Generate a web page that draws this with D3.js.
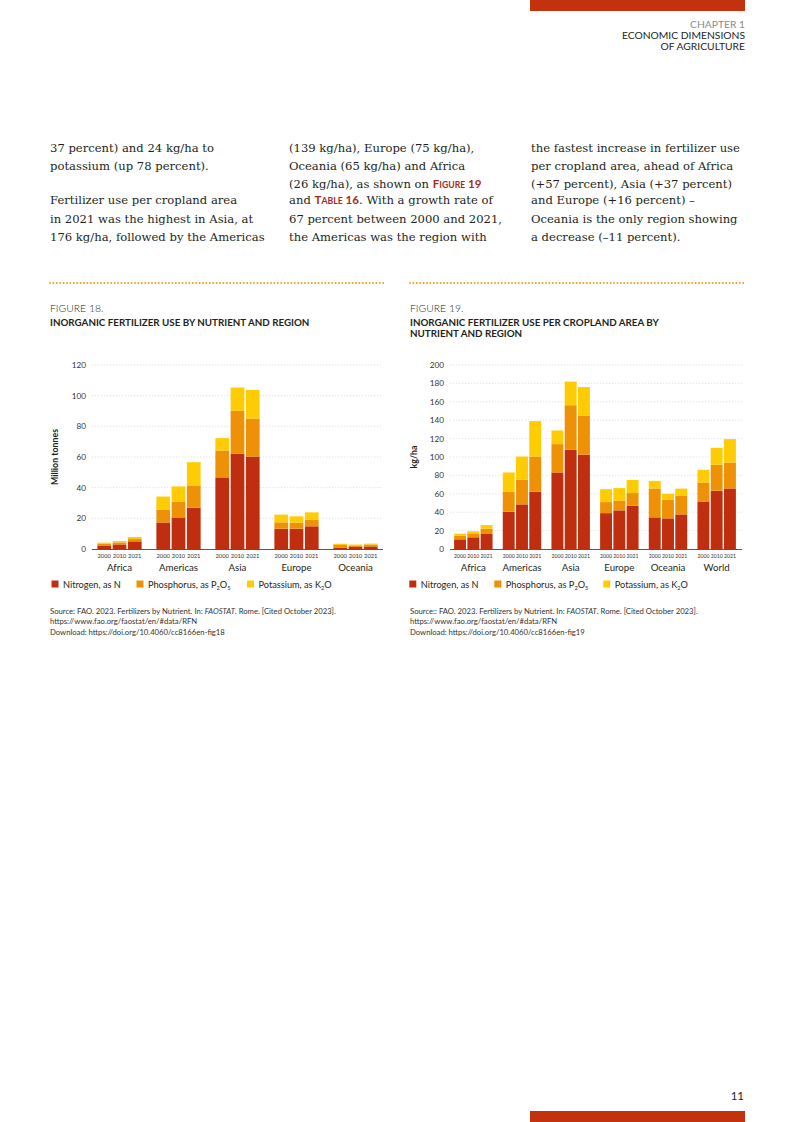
<!DOCTYPE html>
<html>
<head>
<meta charset="utf-8">
<script src="https://cdn.jsdelivr.net/npm/d3@7"></script>
<style>
  body { margin:0; background:#fff; }
  svg { display:block; }
  .body-txt { font-family:"DejaVu Serif", serif; font-size:11.6px; fill:#231f20; }
  .hl { font-family:"Lato", sans-serif; font-weight:bold; fill:#a82a1e; }
  .sans { font-family:"Lato", sans-serif; fill:#231f20; }
  .fig-no { font-family:"Lato", sans-serif; font-size:10.4px; fill:#231f20; font-weight:300; }
  .fig-title { font-family:"Lato", sans-serif; font-size:9.8px; font-weight:bold; fill:#231f20; }
  .tick-lbl { font-family:"Lato", sans-serif; font-size:8.2px; fill:#333; }
  .yr { font-family:"Lato", sans-serif; font-size:5.6px; fill:#333; }
  .reg { font-family:"Lato", sans-serif; font-size:9.7px; fill:#231f20; }
  .leg { font-family:"Lato", sans-serif; font-size:9.2px; fill:#231f20; }
  .src { font-family:"Lato", sans-serif; font-size:7.7px; fill:#333; }
  .grid { stroke:#cdcdcd; stroke-width:0.6; stroke-dasharray:1.2,1.8; }
</style>
</head>
<body>
<svg id="page" width="793" height="1122"></svg>
<script>
// ---- data ----
var years = ['2000', '2010', '2021'];
var nutrientNames = ['Nitrogen', 'Phosphorus', 'Potassium'];
var colors = ['#bf2e0e', '#ee9107', '#ffcb05'];

// figure 18, million tonnes, order: region x year
var regions18 = ['Africa', 'Americas', 'Asia', 'Europe', 'Oceania'];
var nitrogen18   = [2.3, 3.0, 5.0,  17.3, 20.6, 27.0,  46.7, 62.1, 60.3,  13.2, 13.2, 14.8,  1.0, 1.3, 1.7];
var phosphorus18 = [1.2, 1.3, 1.5,   8.3, 10.4, 14.1,  17.5, 28.0, 24.8,   4.2,  4.0,  4.3,  1.6, 1.0, 1.2];
var potassium18  = [0.6, 0.9, 1.3,   8.6,  9.8, 15.5,   8.1, 15.2, 18.6,   5.0,  4.1,  4.8,  0.8, 0.6, 0.6];
var ticks18 = [0, 20, 40, 60, 80, 100, 120];

// figure 19, kg/ha
var regions19 = ['Africa', 'Americas', 'Asia', 'Europe', 'Oceania', 'World'];
var nitrogen19   = [10.5, 12.7, 16.3,  40.5, 48.5, 62.2,  83.2, 107.8, 102.4,  39.0, 42.0, 47.0,  34.4, 33.3, 37.6,  51.7, 63.3, 65.8];
var phosphorus19 = [ 4.0,  4.3,  5.8,  21.7, 26.7, 38.3,  30.8,  48.5,  42.3,  12.0, 10.4, 13.8,  31.4, 20.2, 20.6,  20.6, 28.2, 28.2];
var potassium19  = [ 2.1,  2.2,  3.9,  21.0, 25.3, 38.5,  14.8,  25.7,  31.3,  14.0, 13.8, 14.2,   8.3,  6.5,  7.4,  13.8, 18.5, 25.4];
var ticks19 = [0, 20, 40, 60, 80, 100, 120, 140, 160, 180, 200];

var svg = d3.select('#page');

// ---- page furniture ----
svg.append('rect').attr('x', 530).attr('y', 0).attr('width', 215).attr('height', 11).attr('fill', '#c4310f');
svg.append('rect').attr('x', 530).attr('y', 1111).attr('width', 215).attr('height', 11).attr('fill', '#c4310f');

svg.append('text').attr('class', 'sans').attr('x', 745).attr('y', 28).attr('text-anchor', 'end')
  .style('font-size', '10.3px').style('fill', '#8a8a8a').text('CHAPTER 1');
svg.append('text').attr('class', 'sans').attr('x', 745).attr('y', 39).attr('text-anchor', 'end')
  .style('font-size', '10.3px').text('ECONOMIC DIMENSIONS');
svg.append('text').attr('class', 'sans').attr('x', 745).attr('y', 50).attr('text-anchor', 'end')
  .style('font-size', '10.3px').text('OF AGRICULTURE');

svg.append('text').attr('class', 'sans').attr('x', 744).attr('y', 1100).attr('text-anchor', 'end')
  .style('font-size', '11.5px').text('11');

// body text columns
var lineY = [152, 170.2, 188.3, 204.4, 222.5, 240.6];
function bodyLine(x, i, parts) {
  var t = svg.append('text').attr('class', 'body-txt').attr('x', x).attr('y', lineY[i]);
  parts.forEach(function(p) {
    if (typeof p === 'string') { t.append('tspan').text(p); }
    else {
      // small caps highlight
      t.append('tspan').attr('class', 'hl').style('font-size', '11.6px').text(p.big);
      t.append('tspan').attr('class', 'hl').style('font-size', '8.7px').text(p.small);
      t.append('tspan').attr('class', 'hl').style('font-size', '11.6px').text(p.num);
    }
  });
}
bodyLine(50, 0, ['37 percent) and 24 kg/ha to']);
bodyLine(50, 1, ['potassium (up 78 percent).']);
bodyLine(50, 3, ['Fertilizer use per cropland area']);
bodyLine(50, 4, ['in 2021 was the highest in Asia, at']);
bodyLine(50, 5, ['176 kg/ha, followed by the Americas']);

bodyLine(289, 0, ['(139 kg/ha), Europe (75 kg/ha),']);
bodyLine(289, 1, ['Oceania (65 kg/ha) and Africa']);
bodyLine(289, 2, ['(26 kg/ha), as shown on ', {big: 'F', small: 'IGURE', num: ' 19'}]);
bodyLine(289, 3, ['and ', {big: 'T', small: 'ABLE', num: ' 16'}, '. With a growth rate of']);
bodyLine(289, 4, ['67 percent between 2000 and 2021,']);
bodyLine(289, 5, ['the Americas was the region with']);

bodyLine(531, 0, ['the fastest increase in fertilizer use']);
bodyLine(531, 1, ['per cropland area, ahead of Africa']);
bodyLine(531, 2, ['(+57 percent), Asia (+37 percent)']);
bodyLine(531, 3, ['and Europe (+16 percent) \u2013']);
bodyLine(531, 4, ['Oceania is the only region showing']);
bodyLine(531, 5, ['a decrease (\u201311 percent).']);

// ---- chart drawing ----
function drawChart(cfg) {
  var g = svg.append('g');

  // dotted separator
  g.append('line').attr('x1', cfg.left).attr('x2', cfg.left + 335).attr('y1', 283).attr('y2', 283)
    .attr('stroke', '#eea020').attr('stroke-width', 2).attr('stroke-linecap', 'round')
    .attr('stroke-dasharray', '0,3.4');

  g.append('text').attr('class', 'fig-no').attr('x', cfg.left).attr('y', 312).text(cfg.figNo);
  cfg.title.forEach(function(t, i) {
    g.append('text').attr('class', 'fig-title').attr('x', cfg.left).attr('y', 326 + i * 10.5).text(t);
  });

  var x0 = d3.scaleBand().domain(cfg.regions).range(cfg.xRange)
    .paddingInner(cfg.pad).paddingOuter(cfg.pad / 2);
  var x1 = d3.scaleBand().domain(years).range([0, x0.bandwidth()]).paddingInner(0.1);
  var y = d3.scaleLinear().domain([0, d3.max(cfg.ticks)]).range([549, 365]);

  // grid
  g.selectAll('.grid').data(cfg.ticks.filter(function(d) { return d > 0; })).enter()
    .append('line').attr('class', 'grid')
    .attr('x1', cfg.gridRange[0]).attr('x2', cfg.gridRange[1])
    .attr('y1', function(d) { return y(d); }).attr('y2', function(d) { return y(d); });

  // y tick labels
  g.selectAll('.tick-lbl').data(cfg.ticks).enter()
    .append('text').attr('class', 'tick-lbl')
    .attr('x', cfg.gridRange[0] - 6).attr('y', function(d) { return y(d) + 2.9; })
    .attr('text-anchor', 'end').text(function(d) { return d; });

  g.append('text').attr('class', 'sans')
    .attr('transform', 'translate(' + cfg.yTitleX + ',' + ((365 + 549) / 2) + ') rotate(-90)')
    .attr('text-anchor', 'middle').style('font-size', '8.8px').style('font-weight', 'bold')
    .text(cfg.yTitle);

  // stacked bars
  var rows = [];
  cfg.regions.forEach(function(r, ri) {
    years.forEach(function(yr, yi) {
      var k = ri * 3 + yi;
      rows.push({region: r, year: yr, N: cfg.n[k], P: cfg.p[k], K: cfg.k[k]});
    });
  });
  var series = d3.stack().keys(['N', 'P', 'K'])(rows);

  g.selectAll('.layer').data(series).enter().append('g')
    .attr('fill', function(d, i) { return colors[i]; })
    .selectAll('rect').data(function(d) { return d; }).enter().append('rect')
    .attr('x', function(d) { return x0(d.data.region) + x1(d.data.year); })
    .attr('width', x1.bandwidth())
    .attr('y', function(d) { return y(d[1]); })
    .attr('height', function(d) { return y(d[0]) - y(d[1]); });

  // baseline
  g.append('line').attr('x1', cfg.gridRange[0]).attr('x2', cfg.gridRange[1])
    .attr('y1', y(0) + 0.5).attr('y2', y(0) + 0.5).attr('stroke', '#444').attr('stroke-width', 0.9);

  // year labels
  rows.forEach(function(d) {
    g.append('text').attr('class', 'yr')
      .attr('x', x0(d.region) + x1(d.year) + x1.bandwidth() / 2).attr('y', 558)
      .attr('text-anchor', 'middle').style('font-size', cfg.yrSize).text(d.year);
  });
  // region labels
  g.selectAll('.reg').data(cfg.regions).enter().append('text').attr('class', 'reg')
    .attr('x', function(d) { return x0(d) + x0.bandwidth() / 2; }).attr('y', 571)
    .attr('text-anchor', 'middle').text(function(d) { return d; });

  // legend
  var legItems = [
    {txt: ['Nitrogen, as N']},
    {txt: ['Phosphorus, as P', '2', 'O', '5']},
    {txt: ['Potassium, as K', '2', 'O']}
  ];
  legItems.forEach(function(it, i) {
    g.append('rect').attr('x', cfg.legX[i]).attr('y', 580.5).attr('width', 7).attr('height', 7).attr('fill', colors[i]);
    var t = g.append('text').attr('class', 'leg').attr('x', cfg.legX[i] + 11.5).attr('y', 587.5);
    it.txt.forEach(function(s, j) {
      var sp = t.append('tspan').text(s);
      if (j % 2 === 1) sp.attr('dy', 2).style('font-size', '5.6px');
      else if (j > 0) sp.attr('dy', -2);
    });
  });

  // source
  var s1 = g.append('text').attr('class', 'src').attr('x', cfg.left).attr('y', 614);
  s1.append('tspan').text(cfg.srcLead + ' FAO. 2023. Fertilizers by Nutrient. In: ');
  s1.append('tspan').style('font-style', 'italic').text('FAOSTAT');
  s1.append('tspan').text('. Rome. [Cited October 2023].');
  g.append('text').attr('class', 'src').attr('x', cfg.left).attr('y', 624.3).text('https://www.fao.org/faostat/en/#data/RFN');
  g.append('text').attr('class', 'src').attr('x', cfg.left).attr('y', 634.6).text('Download: https://doi.org/10.4060/cc8166en-' + cfg.figTag);
}

drawChart({
  left: 50, figNo: 'FIGURE 18.', title: ['INORGANIC FERTILIZER USE BY NUTRIENT AND REGION'],
  regions: regions18, n: nitrogen18, p: phosphorus18, k: potassium18, ticks: ticks18,
  xRange: [90, 385], pad: 0.25, gridRange: [92, 383], yTitle: 'Million tonnes', yTitleX: 58,
  yrSize: '5.8px', legX: [51.5, 136.5, 247], srcLead: 'Source:', figTag: 'fig18'
});

drawChart({
  left: 410, figNo: 'FIGURE 19.', title: ['INORGANIC FERTILIZER USE PER CROPLAND AREA BY', 'NUTRIENT AND REGION'],
  regions: regions19, n: nitrogen19, p: phosphorus19, k: potassium19, ticks: ticks19,
  xRange: [449, 741], pad: 0.21, gridRange: [450, 742], yTitle: 'kg/ha', yTitleX: 417,
  yrSize: '5.2px', legX: [409.3, 494.3, 603.3], srcLead: 'Source::', figTag: 'fig19'
});
</script>
</body>
</html>
